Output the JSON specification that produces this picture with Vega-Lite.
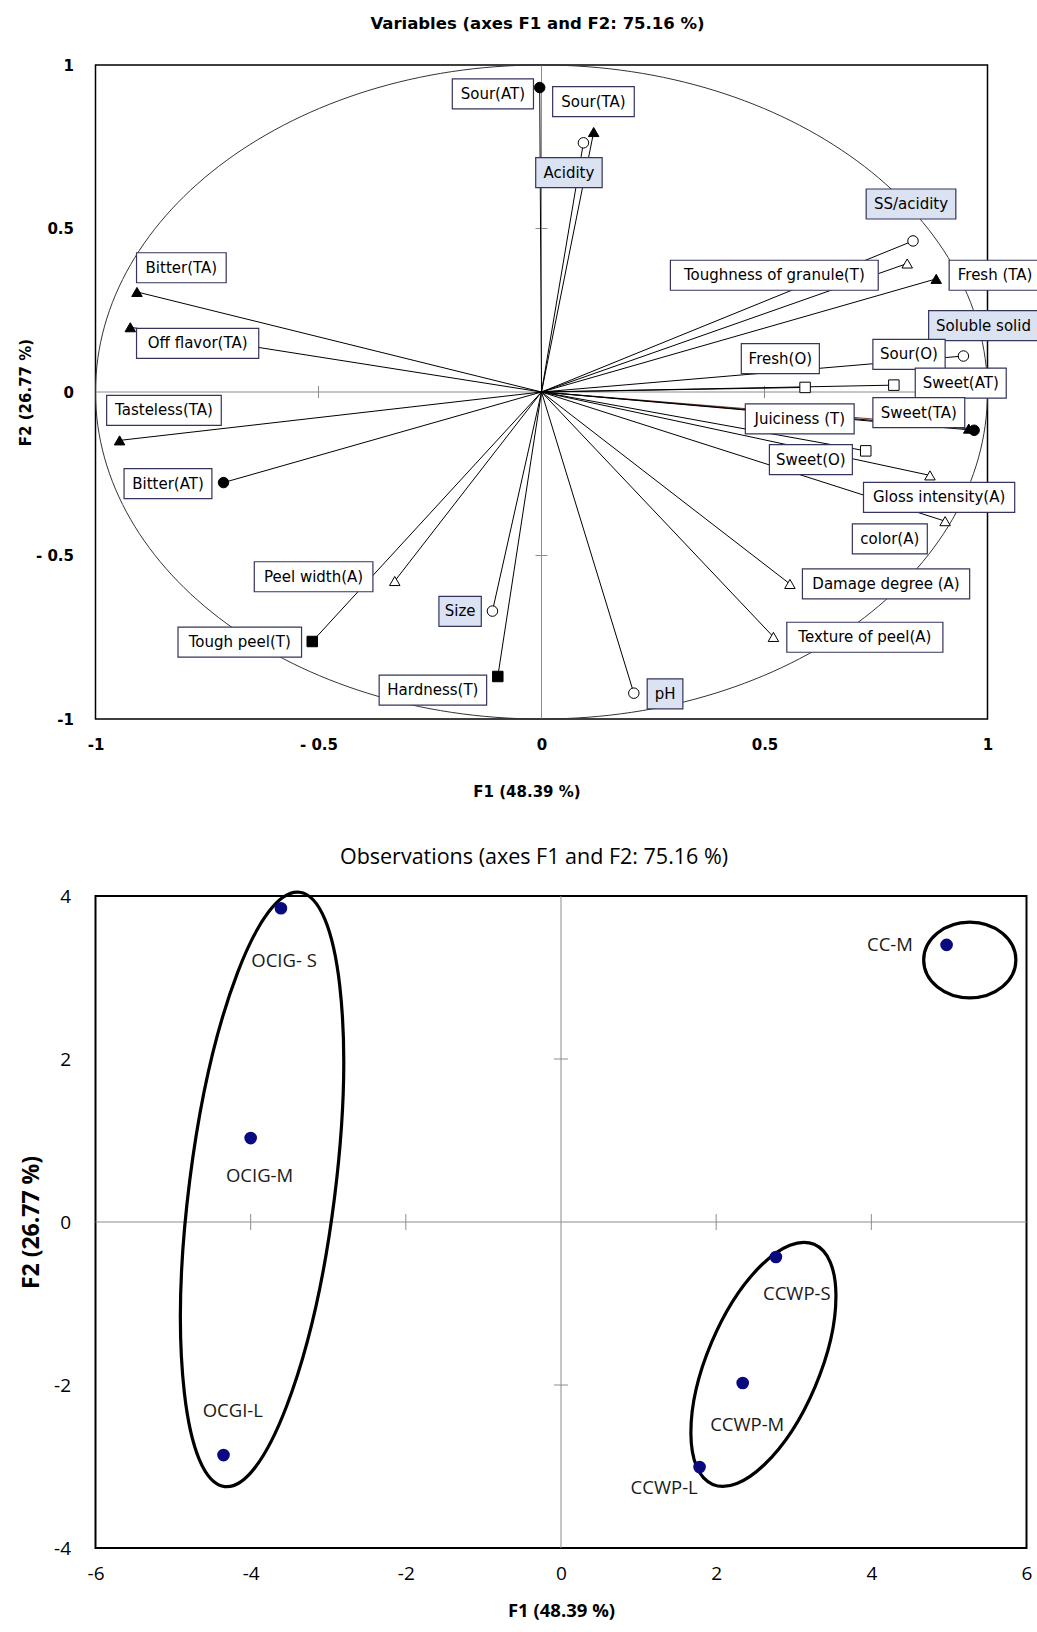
{
  "$schema": "https://vega.github.io/schema/vega-lite/v6.json",
  "background": "white",
  "padding": {"left": 17.5, "top": 15, "right": 0, "bottom": 0},
  "spacing": 46,
  "config": {"view": {"stroke": "black", "strokeWidth": 1.5}},
  "datasets": {
    "vars": [
      {"name": "Sour(AT)", "mk": "AT", "x": -0.004, "y": 0.931, "bx1": -0.200, "bx2": -0.018, "lx": -0.109, "ly": 0.912},
      {"name": "Sour(TA)", "mk": "TA", "x": 0.117, "y": 0.795, "bx1": 0.025, "bx2": 0.208, "lx": 0.1165, "ly": 0.888},
      {"name": "Acidity", "mk": "I", "x": 0.094, "y": 0.762, "bx1": -0.013, "bx2": 0.136, "lx": 0.0615, "ly": 0.671},
      {"name": "SS/acidity", "mk": "I", "x": 0.833, "y": 0.462, "bx1": 0.728, "bx2": 0.929, "lx": 0.8285, "ly": 0.575},
      {"name": "Toughness of granule(T)", "mk": "A", "x": 0.820, "y": 0.393, "bx1": 0.289, "bx2": 0.755, "lx": 0.522, "ly": 0.357},
      {"name": "Fresh (TA)", "mk": "TA", "x": 0.885, "y": 0.346, "bx1": 0.914, "bx2": 1.13, "lx": 1.017, "ly": 0.357},
      {"name": "Soluble solid", "mk": "I", "x": 0.946, "y": 0.110, "bx1": 0.868, "bx2": 1.13, "lx": 0.991, "ly": 0.203},
      {"name": "Fresh(O)", "mk": "O", "x": 0.591, "y": 0.014, "bx1": 0.448, "bx2": 0.623, "lx": 0.5355, "ly": 0.102},
      {"name": "Sour(O)", "mk": "O", "x": 0.790, "y": 0.021, "bx1": 0.743, "bx2": 0.905, "lx": 0.824, "ly": 0.115},
      {"name": "Juiciness (T)", "mk": "T", "x": 0.810, "y": -0.090, "bx1": 0.457, "bx2": 0.701, "lx": 0.579, "ly": -0.082},
      {"name": "Sweet(AT)", "mk": "AT", "x": 0.970, "y": -0.117, "bx1": 0.838, "bx2": 1.042, "lx": 0.940, "ly": 0.027},
      {"name": "Sweet(TA)", "mk": "TA", "x": 0.958, "y": -0.112, "bx1": 0.743, "bx2": 0.949, "lx": 0.846, "ly": -0.063},
      {"name": "Sweet(O)", "mk": "O", "x": 0.727, "y": -0.180, "bx1": 0.511, "bx2": 0.697, "lx": 0.604, "ly": -0.207},
      {"name": "Gloss intensity(A)", "mk": "A", "x": 0.871, "y": -0.255, "bx1": 0.722, "bx2": 1.061, "lx": 0.8915, "ly": -0.322},
      {"name": "color(A)", "mk": "A", "x": 0.905, "y": -0.395, "bx1": 0.697, "bx2": 0.865, "lx": 0.781, "ly": -0.449},
      {"name": "Damage degree (A)", "mk": "A", "x": 0.557, "y": -0.587, "bx1": 0.585, "bx2": 0.960, "lx": 0.7725, "ly": -0.587},
      {"name": "Texture of peel(A)", "mk": "A", "x": 0.520, "y": -0.749, "bx1": 0.550, "bx2": 0.900, "lx": 0.725, "ly": -0.750},
      {"name": "pH", "mk": "I", "x": 0.207, "y": -0.921, "bx1": 0.237, "bx2": 0.317, "lx": 0.277, "ly": -0.923},
      {"name": "Hardness(T)", "mk": "T", "x": -0.098, "y": -0.870, "bx1": -0.364, "bx2": -0.123, "lx": -0.2435, "ly": -0.912},
      {"name": "Size", "mk": "I", "x": -0.110, "y": -0.670, "bx1": -0.230, "bx2": -0.135, "lx": -0.1825, "ly": -0.671},
      {"name": "Tough peel(T)", "mk": "T", "x": -0.514, "y": -0.763, "bx1": -0.815, "bx2": -0.538, "lx": -0.6765, "ly": -0.765},
      {"name": "Peel width(A)", "mk": "A", "x": -0.329, "y": -0.578, "bx1": -0.644, "bx2": -0.378, "lx": -0.511, "ly": -0.565},
      {"name": "Bitter(AT)", "mk": "AT", "x": -0.713, "y": -0.277, "bx1": -0.936, "bx2": -0.739, "lx": -0.8375, "ly": -0.280},
      {"name": "Tasteless(TA)", "mk": "TA", "x": -0.946, "y": -0.148, "bx1": -0.975, "bx2": -0.718, "lx": -0.8465, "ly": -0.056},
      {"name": "Off flavor(TA)", "mk": "TA", "x": -0.922, "y": 0.198, "bx1": -0.908, "bx2": -0.634, "lx": -0.771, "ly": 0.149},
      {"name": "Bitter(TA)", "mk": "TA", "x": -0.907, "y": 0.306, "bx1": -0.908, "bx2": -0.707, "lx": -0.8075, "ly": 0.380}
    ],
    "ticksTop": [{"v": -0.5}, {"v": 0.5}],
    "ticksBotX": [{"v": -4}, {"v": -2}, {"v": 2}, {"v": 4}],
    "ticksBotY": [{"v": -2}, {"v": 2}],
    "groups": [
      {"group": "OCIG", "cx": -3.853, "cy": 0.40},
      {"group": "CC", "cx": 5.269, "cy": 3.215},
      {"group": "CCWP", "cx": 2.609, "cy": -1.747}
    ],
    "obs": [
      {"label": "OCIG- S", "x": -3.61, "y": 3.85, "lx": -3.57, "ly": 3.20},
      {"label": "OCIG-M", "x": -4.00, "y": 1.03, "lx": -3.885, "ly": 0.563},
      {"label": "OCGI-L", "x": -4.35, "y": -2.86, "lx": -4.23, "ly": -2.324},
      {"label": "CC-M", "x": 4.97, "y": 3.40, "lx": 4.24, "ly": 3.397},
      {"label": "CCWP-S", "x": 2.77, "y": -0.43, "lx": 3.04, "ly": -0.878},
      {"label": "CCWP-M", "x": 2.342, "y": -1.975, "lx": 2.40, "ly": -2.488},
      {"label": "CCWP-L", "x": 1.786, "y": -3.007, "lx": 1.33, "ly": -3.265}
    ]
  },
  "vconcat": [
    {
      "width": 892,
      "height": 654,
      "title": {"text": "Variables (axes F1 and F2: 75.16 %)", "font": "DejaVu Sans", "fontSize": 16.5, "fontWeight": "bold", "offset": 25.5, "dx": -4, "frame": "group", "color": "black"},
      "layer": [
        {
          "data": {"values": [{}]},
          "mark": {"type": "rule", "color": "#8c8c8c", "strokeWidth": 1},
          "encoding": {
            "x": {"datum": 0, "type": "quantitative", "scale": {"domain": [-1, 1], "nice": false, "zero": false}}
          }
        },
        {
          "data": {"values": [{}]},
          "mark": {"type": "rule", "color": "#8c8c8c", "strokeWidth": 1},
          "encoding": {
            "y": {"datum": 0, "type": "quantitative", "scale": {"domain": [-1, 1], "nice": false, "zero": false}}
          }
        },
        {
          "data": {"name": "ticksTop"},
          "mark": {"type": "tick", "orient": "vertical", "size": 12, "thickness": 1, "color": "#8c8c8c", "opacity": 1},
          "encoding": {
            "x": {"field": "v", "type": "quantitative", "scale": {"domain": [-1, 1], "nice": false, "zero": false}},
            "y": {"datum": 0, "type": "quantitative", "scale": {"domain": [-1, 1], "nice": false, "zero": false}}
          }
        },
        {
          "data": {"name": "ticksTop"},
          "mark": {"type": "tick", "orient": "horizontal", "size": 12, "thickness": 1, "color": "#8c8c8c", "opacity": 1},
          "encoding": {
            "y": {"field": "v", "type": "quantitative", "scale": {"domain": [-1, 1], "nice": false, "zero": false}},
            "x": {"datum": 0, "type": "quantitative", "scale": {"domain": [-1, 1], "nice": false, "zero": false}}
          }
        },
        {
          "data": {"values": [{}]},
          "mark": {"type": "point", "shape": "M-1,0A1,0.7332,0,1,1,1,0A1,0.7332,0,1,1,-1,0Z", "size": 795664, "filled": false, "stroke": "#333333", "strokeWidth": 1, "opacity": 1},
          "encoding": {
            "x": {"datum": 0, "type": "quantitative", "scale": {"domain": [-1, 1], "nice": false, "zero": false}},
            "y": {"datum": 0, "type": "quantitative", "scale": {"domain": [-1, 1], "nice": false, "zero": false}}
          }
        },
        {
          "data": {"name": "vars"},
          "mark": {"type": "rule", "strokeWidth": 1},
          "encoding": {
            "x": {"field": "x", "type": "quantitative", "scale": {"domain": [-1, 1], "nice": false, "zero": false},
              "axis": {"values": [-1, -0.5, 0, 0.5, 1], "labelExpr": "datum.value == -0.5 ? '- 0.5' : datum.value < 0 ? '-' + abs(datum.value) : '' + datum.value", "grid": false, "ticks": false, "tickSize": 0, "domain": false, "labelPadding": 18, "labelFont": "DejaVu Sans", "labelFontWeight": "bold", "labelFontSize": 15, "labelColor": "black", "labelFlush": false, "labelOverlap": false, "title": "F1 (48.39 %)", "titleFont": "DejaVu Sans", "titleFontWeight": "bold", "titleFontSize": 15, "titleColor": "black", "titlePadding": 32, "titleX": 431, "titleAlign": "center"}},
            "y": {"field": "y", "type": "quantitative", "scale": {"domain": [-1, 1], "nice": false, "zero": false},
              "axis": {"values": [-1, -0.5, 0, 0.5, 1], "labelExpr": "datum.value == -0.5 ? '- 0.5' : datum.value < 0 ? '-' + abs(datum.value) : '' + datum.value", "grid": false, "ticks": false, "tickSize": 0, "domain": false, "labelPadding": 22, "labelFont": "DejaVu Sans", "labelFontWeight": "bold", "labelFontSize": 15, "labelColor": "black", "labelFlush": false, "labelOverlap": false, "title": "F2 (26.77 %)", "titleFont": "DejaVu Sans", "titleFontWeight": "bold", "titleFontSize": 15, "titleColor": "black", "titlePadding": 2}},
            "x2": {"datum": 0},
            "y2": {"datum": 0},
            "color": {"condition": {"test": "datum.name === 'Juiciness (T)'", "value": "#7b3b2e"}, "value": "black"}
          }
        },
        {
          "data": {"name": "vars"},
          "mark": {"type": "point", "size": 110, "strokeWidth": 1, "stroke": "black", "filled": true, "opacity": 1},
          "encoding": {
            "x": {"field": "x", "type": "quantitative", "scale": {"domain": [-1, 1], "nice": false, "zero": false}},
            "y": {"field": "y", "type": "quantitative", "scale": {"domain": [-1, 1], "nice": false, "zero": false}},
            "shape": {"field": "mk", "type": "nominal", "scale": {"domain": ["AT", "TA", "I", "A", "O", "T"], "range": ["circle", "triangle-up", "circle", "triangle-up", "square", "square"]}, "legend": null},
            "fill": {"field": "mk", "type": "nominal", "scale": {"domain": ["AT", "TA", "I", "A", "O", "T"], "range": ["black", "black", "white", "white", "white", "black"]}, "legend": null}
          }
        },
        {
          "data": {"name": "vars"},
          "mark": {"type": "rect", "yOffset": -15, "y2Offset": 15, "stroke": "#34345e", "strokeWidth": 1.2},
          "encoding": {
            "x": {"field": "bx1", "type": "quantitative", "scale": {"domain": [-1, 1], "nice": false, "zero": false}},
            "x2": {"field": "bx2"},
            "y": {"field": "ly", "type": "quantitative", "scale": {"domain": [-1, 1], "nice": false, "zero": false}},
            "y2": {"field": "ly"},
            "fill": {"condition": {"test": "datum.mk === 'I'", "value": "#dbe3f3"}, "value": "white"}
          }
        },
        {
          "data": {"name": "vars"},
          "mark": {"type": "text", "font": "DejaVu Sans", "fontSize": 15, "align": "center", "baseline": "middle", "color": "black"},
          "encoding": {
            "x": {"field": "lx", "type": "quantitative", "scale": {"domain": [-1, 1], "nice": false, "zero": false}},
            "y": {"field": "ly", "type": "quantitative", "scale": {"domain": [-1, 1], "nice": false, "zero": false}},
            "text": {"field": "name"}
          }
        }
      ]
    },
    {
      "width": 931,
      "height": 652,
      "view": {"stroke": "black", "strokeWidth": 2},
      "title": {"text": "Observations (axes F1 and F2: 75.16 %)", "font": "Open Sans", "fontSize": 21.5, "fontWeight": "normal", "offset": 17, "dx": -27, "frame": "group", "color": "black"},
      "layer": [
        {
          "data": {"values": [{}]},
          "mark": {"type": "rule", "color": "#8c8c8c", "strokeWidth": 1},
          "encoding": {
            "x": {"datum": 0, "type": "quantitative", "scale": {"domain": [-6, 6], "nice": false, "zero": false}}
          }
        },
        {
          "data": {"values": [{}]},
          "mark": {"type": "rule", "color": "#8c8c8c", "strokeWidth": 1},
          "encoding": {
            "y": {"datum": 0, "type": "quantitative", "scale": {"domain": [-4, 4], "nice": false, "zero": false}}
          }
        },
        {
          "data": {"name": "ticksBotX"},
          "mark": {"type": "tick", "orient": "vertical", "size": 16, "thickness": 1, "color": "#8c8c8c", "opacity": 1},
          "encoding": {
            "x": {"field": "v", "type": "quantitative", "scale": {"domain": [-6, 6], "nice": false, "zero": false}},
            "y": {"datum": 0, "type": "quantitative", "scale": {"domain": [-4, 4], "nice": false, "zero": false}}
          }
        },
        {
          "data": {"name": "ticksBotY"},
          "mark": {"type": "tick", "orient": "horizontal", "size": 14, "thickness": 1, "color": "#8c8c8c", "opacity": 1},
          "encoding": {
            "y": {"field": "v", "type": "quantitative", "scale": {"domain": [-4, 4], "nice": false, "zero": false}},
            "x": {"datum": 0, "type": "quantitative", "scale": {"domain": [-6, 6], "nice": false, "zero": false}}
          }
        },
        {
          "data": {"name": "groups"},
          "transform": [{"filter": "datum.group === 'OCIG'"}],
          "mark": {"type": "point", "shape": "M0,-1A0.2434,1,0,1,1,0,1A0.2434,1,0,1,1,0,-1Z", "size": 358801, "angle": 7.2, "filled": false, "stroke": "black", "strokeWidth": 3.2, "opacity": 1},
          "encoding": {
            "x": {"field": "cx", "type": "quantitative", "scale": {"domain": [-6, 6], "nice": false, "zero": false}},
            "y": {"field": "cy", "type": "quantitative", "scale": {"domain": [-4, 4], "nice": false, "zero": false}}
          }
        },
        {
          "data": {"name": "groups"},
          "transform": [{"filter": "datum.group === 'CC'"}],
          "mark": {"type": "point", "shape": "M-1,0A1,0.82,0,1,1,1,0A1,0.82,0,1,1,-1,0Z", "size": 8500, "filled": false, "stroke": "black", "strokeWidth": 3.2, "opacity": 1},
          "encoding": {
            "x": {"field": "cx", "type": "quantitative", "scale": {"domain": [-6, 6], "nice": false, "zero": false}},
            "y": {"field": "cy", "type": "quantitative", "scale": {"domain": [-4, 4], "nice": false, "zero": false}}
          }
        },
        {
          "data": {"name": "groups"},
          "transform": [{"filter": "datum.group === 'CCWP'"}],
          "mark": {"type": "point", "shape": "M0,-1A0.432,1,0,1,1,0,1A0.432,1,0,1,1,0,-1Z", "size": 67914, "angle": 22.9, "filled": false, "stroke": "black", "strokeWidth": 3.2, "opacity": 1},
          "encoding": {
            "x": {"field": "cx", "type": "quantitative", "scale": {"domain": [-6, 6], "nice": false, "zero": false}},
            "y": {"field": "cy", "type": "quantitative", "scale": {"domain": [-4, 4], "nice": false, "zero": false}}
          }
        },
        {
          "data": {"name": "obs"},
          "mark": {"type": "circle", "size": 160, "color": "#0a0a80", "opacity": 1},
          "encoding": {
            "x": {"field": "x", "type": "quantitative", "scale": {"domain": [-6, 6], "nice": false, "zero": false},
              "axis": {"values": [-6, -4, -2, 0, 2, 4, 6], "labelExpr": "datum.value < 0 ? '-' + abs(datum.value) : '' + datum.value", "grid": false, "ticks": false, "tickSize": 0, "domain": false, "labelPadding": 16, "labelFont": "Open Sans", "labelFontSize": 19, "labelColor": "black", "labelFlush": false, "labelOverlap": false, "title": "F1 (48.39 %)", "titleFont": "Open Sans", "titleFontWeight": "bold", "titleFontSize": 18.5, "titleColor": "black", "titlePadding": 18}},
            "y": {"field": "y", "type": "quantitative", "scale": {"domain": [-4, 4], "nice": false, "zero": false},
              "axis": {"values": [-4, -2, 0, 2, 4], "labelExpr": "datum.value < 0 ? '-' + abs(datum.value) : '' + datum.value", "grid": false, "ticks": false, "tickSize": 0, "domain": false, "labelPadding": 25, "labelFont": "Open Sans", "labelFontSize": 19, "labelColor": "black", "labelFlush": false, "labelOverlap": false, "title": "F2 (26.77 %)", "titleFont": "Open Sans", "titleFontWeight": "bold", "titleFontSize": 23, "titleColor": "black", "titlePadding": 10}}
          }
        },
        {
          "data": {"name": "obs"},
          "mark": {"type": "text", "font": "Open Sans", "fontSize": 18.5, "align": "center", "baseline": "middle", "color": "#1a1a1a"},
          "encoding": {
            "x": {"field": "lx", "type": "quantitative", "scale": {"domain": [-6, 6], "nice": false, "zero": false}},
            "y": {"field": "ly", "type": "quantitative", "scale": {"domain": [-4, 4], "nice": false, "zero": false}},
            "text": {"field": "label"}
          }
        }
      ]
    }
  ]
}
